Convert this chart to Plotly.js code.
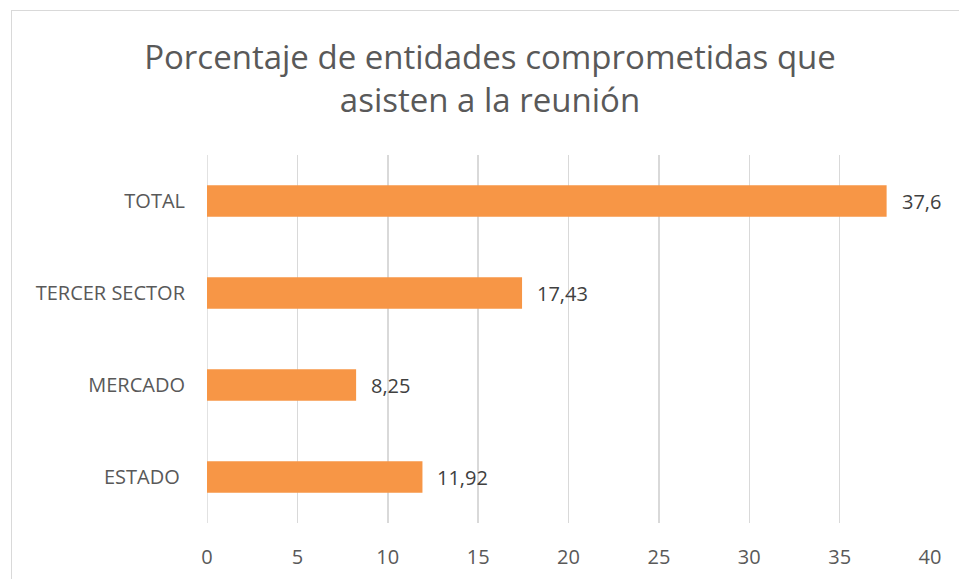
<!DOCTYPE html>
<html>
<head>
<meta charset="utf-8">
<script src="https://cdn.plot.ly/plotly-3.0.1.min.js"></script>
<style>
  html, body { margin: 0; padding: 0; background: #fff; overflow: hidden; }
  #wrap { position: relative; width: 959px; height: 579px; }
  #frame { position: absolute; left: 11px; top: 10px; width: 990px; height: 600px; border: 1.5px solid #d9d9d9; box-sizing: border-box; pointer-events: none; }
  #chart { position: absolute; left: 0; top: 0; width: 959px; height: 579px; }
</style>
</head>
<body>
<div id="wrap">
  <div id="chart"></div>
  <div id="frame"></div>
</div>
<script>
const categories = ["ESTADO\u00a0", "MERCADO", "TERCER SECTOR", "TOTAL"];
const values = [11.92, 8.25, 17.43, 37.6];
const xTicks = [0, 5, 10, 15, 20, 25, 30, 35, 40];
const titleText = "Porcentaje de entidades comprometidas que<br>asisten a la reunión";

const fontFamily = "'Open Sans', 'Noto Sans', sans-serif";

const trace = {
  type: "bar",
  orientation: "h",
  x: values,
  y: categories,
  marker: { color: "#F79646", line: { width: 0 } },
  width: 0.345,
  hoverinfo: "none"
};

const annotations = values.map((v, i) => ({
  x: v,
  y: categories[i],
  xref: "x",
  yref: "y",
  text: String(v).replace(".", ","),
  showarrow: false,
  xanchor: "left",
  yanchor: "middle",
  xshift: 13,
  font: { family: fontFamily, size: 20, color: "#404040" }
}));

const layout = {
  width: 959,
  height: 579,
  margin: { l: 207, r: 29, t: 155, b: 56 },
  paper_bgcolor: "#ffffff",
  plot_bgcolor: "#ffffff",
  showlegend: false,
  separators: ",.",
  title: {
    text: titleText,
    x: 490 / 959,
    xref: "container",
    xanchor: "center",
    y: 1 - 69 / 579,
    yref: "container",
    yanchor: "top",
    font: { family: fontFamily, size: 33, color: "#595959" }
  },
  xaxis: {
    range: [0, 40],
    tickvals: xTicks,
    ticktext: xTicks.map(String),
    showgrid: true,
    gridcolor: "#d9d9d9",
    gridwidth: 1.5,
    zeroline: false,
    showline: false,
    ticks: "",
    ticklabelstandoff: 20,
    tickfont: { family: fontFamily, size: 20, color: "#595959" },
    fixedrange: true
  },
  yaxis: {
    type: "category",
    categoryorder: "array",
    categoryarray: categories,
    showgrid: false,
    zeroline: false,
    showline: false,
    ticks: "",
    ticklabelstandoff: 21,
    tickfont: { family: fontFamily, size: 20, color: "#595959" },
    fixedrange: true
  },
  shapes: [{
    type: "line", xref: "x", yref: "paper",
    x0: 0, x1: 0, y0: 0, y1: 1,
    line: { color: "#d9d9d9", width: 1.5 },
    layer: "below"
  }],
  annotations: annotations
};

Plotly.newPlot("chart", [trace], layout, { displayModeBar: false, staticPlot: true });
</script>
</body>
</html>
